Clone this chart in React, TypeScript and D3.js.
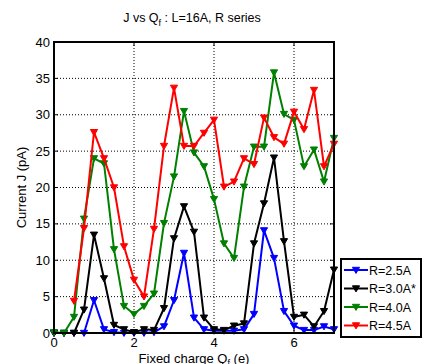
import React from "react";
import * as d3 from "d3";

// Fixed charge Q_f (e), sampled every 0.25 e
const qf = d3.range(0, 29).map((i) => i * 0.25);

const seriesNames = ["R=2.5A", "R=3.0A*", "R=4.0A", "R=4.5A"];
const seriesColors = ["#0000ff", "#000000", "#008000", "#ff0000"];

// Current J (pA) per radius
const jR25 = [0, 0, 0, 0, 4.5, 0.5, 0.1, 0, 0, 0, 0.1, 0.9, 4.5, 11.0, 2.1, 0.5, 0.3, 0.3, 0.3, 0.5, 2.6, 14.1, 10.3, 3.0, 1.0, 0.4, 0.4, 0.9, 0.5];
const jR30 = [0, 0, 0, 3.2, 13.5, 7.5, 1.1, 0.5, 0.1, 0.5, 0.4, 3.4, 13.0, 17.4, 13.9, 2.1, 0.5, 0.4, 1.0, 1.3, 12.3, 17.8, 24.1, 12.6, 2.2, 2.5, 0.9, 3.0, 8.7];
const jR40 = [0.1, 0, 2.2, 15.7, 24.0, 23.3, 11.5, 3.7, 2.6, 3.7, 5.4, 15.1, 21.5, 30.5, 24.8, 22.9, 18.4, 12.3, 10.3, 20.1, 25.6, 25.6, 35.8, 30.1, 29.3, 22.9, 25.2, 20.8, 26.8];
const jR45 = [null, null, 4.4, 14.4, 27.6, 24.0, 20.0, 11.9, 7.3, 5.0, 14.3, 25.7, 33.7, 25.7, 25.7, 27.5, 29.3, 20.1, 20.8, 24.0, 23.2, 29.6, 26.9, 26.0, 30.4, 28.0, 33.4, 22.9, 26.0];

const seriesValues = [jR25, jR30, jR40, jR45];

const xTicks = [0, 2, 4, 6];
const yTicks = [0, 5, 10, 15, 20, 25, 30, 35, 40];

const W = 432;
const H = 364;
const left = 54;
const right = 334;
const top = 42;
const bottom = 333;

const font = "'Liberation Sans', Arial, sans-serif";

function tri(cx: number, cy: number, s: number) {
  return `M${cx - s},${cy - s * 0.75} L${cx + s},${cy - s * 0.75} L${cx},${cy + s * 0.95} Z`;
}

export default function App() {
  const x = d3.scaleLinear().domain([0, 7]).range([left, right]);
  const y = d3.scaleLinear().domain([0, 40]).range([bottom, top]);

  const line = d3
    .line<[number, number | null]>()
    .defined((d) => d[1] !== null)
    .x((d) => x(d[0]))
    .y((d) => y(d[1] as number));

  const legendX = 341;
  const legendY = 259;
  const legendW = 80;
  const legendH = 78;
  const rowH = 18.5;

  return (
    <svg width={W} height={H} style={{ position: "absolute", left: 0, top: 0, background: "#fff" }} fontFamily={font}>
      <rect x={0} y={0} width={W} height={H} fill="#fff" />
      {/* grid */}
      <g stroke="#000" strokeWidth={1} strokeDasharray="1,2">
        {yTicks.slice(1, -1).map((t) => (
          <line key={"gy" + t} x1={left} x2={right} y1={y(t)} y2={y(t)} />
        ))}
        {xTicks.slice(1).map((t) => (
          <line key={"gx" + t} x1={x(t)} x2={x(t)} y1={top} y2={bottom} />
        ))}
      </g>
      {/* ticks */}
      <g stroke="#000" strokeWidth={1}>
        {yTicks.map((t) => (
          <g key={"ty" + t}>
            <line x1={left} x2={left + 4} y1={y(t)} y2={y(t)} />
            <line x1={right} x2={right - 4} y1={y(t)} y2={y(t)} />
          </g>
        ))}
        {xTicks.map((t) => (
          <g key={"tx" + t}>
            <line x1={x(t)} x2={x(t)} y1={bottom} y2={bottom - 4} />
            <line x1={x(t)} x2={x(t)} y1={top} y2={top + 4} />
          </g>
        ))}
      </g>
      {/* series */}
      {seriesValues.map((vals, si) => {
        const pts: [number, number | null][] = qf.map((q, i) => [q, vals[i]]);
        return (
          <g key={seriesNames[si]}>
            <path d={line(pts) || ""} fill="none" stroke={seriesColors[si]} strokeWidth={2} strokeLinejoin="round" />
            {pts
              .filter((p) => p[1] !== null)
              .map((p, i) => (
                <path key={i} d={tri(x(p[0]), y(p[1] as number), 3.6)} fill={seriesColors[si]} stroke={seriesColors[si]} strokeWidth={1} />
              ))}
          </g>
        );
      })}
      {/* axes box */}
      <rect x={left} y={top} width={right - left} height={bottom - top} fill="none" stroke="#000" strokeWidth={2} />
      {/* tick labels */}
      <g fontSize={13} fill="#000">
        {yTicks.map((t) => (
          <text key={"ly" + t} x={left - 4} y={y(t) + 4.5} textAnchor="end">
            {t}
          </text>
        ))}
        {xTicks.map((t) => (
          <text key={"lx" + t} x={x(t)} y={bottom + 14} textAnchor="middle">
            {t}
          </text>
        ))}
      </g>
      {/* title */}
      <text x={192} y={22} fontSize={12.5} textAnchor="middle" fill="#000">
        J vs Q<tspan fontSize={9} dy={4}>f</tspan>
        <tspan dy={-4}> : L=16A, R series</tspan>
      </text>
      {/* axis labels */}
      <text x={194} y={362.5} fontSize={13} textAnchor="middle" fill="#000">
        Fixed charge Q<tspan fontSize={9} dy={3}>f</tspan>
        <tspan dy={-3}> (e)</tspan>
      </text>
      <text transform={`translate(26,${(top + bottom) / 2}) rotate(-90)`} fontSize={13} textAnchor="middle" fill="#000">
        Current J (pA)
      </text>
      {/* legend */}
      <rect x={legendX} y={legendY} width={legendW} height={legendH} fill="#fff" stroke="#000" strokeWidth={2} />
      {seriesNames.map((name, si) => {
        const cy = legendY + 11 + si * rowH;
        return (
          <g key={"lg" + name}>
            <line x1={legendX + 3} x2={legendX + 27} y1={cy} y2={cy} stroke={seriesColors[si]} strokeWidth={2} />
            <path d={tri(legendX + 15, cy, 3.6)} fill={seriesColors[si]} stroke={seriesColors[si]} strokeWidth={1} />
            <text x={legendX + 28} y={cy + 4.5} fontSize={12.5} fill="#000">
              {name}
            </text>
          </g>
        );
      })}
    </svg>
  );
}
